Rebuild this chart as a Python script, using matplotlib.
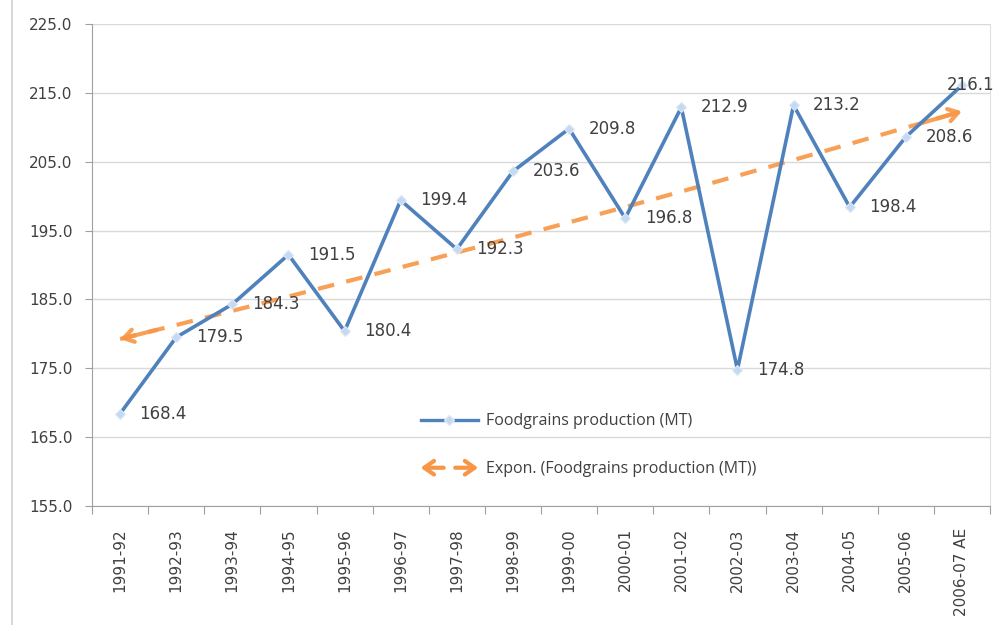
import numpy as np
import matplotlib
matplotlib.use("Agg")
import matplotlib.pyplot as plt
from matplotlib.legend_handler import HandlerBase
from matplotlib.patches import FancyArrowPatch
from matplotlib.lines import Line2D

# ---- data ----
years = ["1991-92", "1992-93", "1993-94", "1994-95", "1995-96", "1996-97",
         "1997-98", "1998-99", "1999-00", "2000-01", "2001-02", "2002-03",
         "2003-04", "2004-05", "2005-06", "2006-07 AE"]
production = [168.4, 179.5, 184.3, 191.5, 180.4, 199.4, 192.3, 203.6,
              209.8, 196.8, 212.9, 174.8, 213.2, 198.4, 208.6, 216.1]
y_ticks = [155.0, 165.0, 175.0, 185.0, 195.0, 205.0, 215.0, 225.0]
series_label = "Foodgrains production (MT)"
trend_label = "Expon. (Foodgrains production (MT))"

BLUE = "#4f81bd"
ORANGE = "#f79646"
TXT = "#404040"
NUMFONT = "DejaVu Sans"

plt.rcParams["font.family"] = NUMFONT

fig = plt.figure(figsize=(10.01, 6.25), dpi=100)
ax = fig.add_axes([92 / 1001, 1 - 506 / 625, (990 - 92) / 1001, (506 - 24) / 625])

x = np.arange(len(years))
ax.plot(x, production, color=BLUE, lw=2.6, marker="D", ms=5,
        mfc="#c6d9f1", mec="#dbe8f7", mew=0.8, zorder=3, label=series_label)

# exponential trendline (Excel style: ln(y) = ln(a) + b*x)
xx = x + 1
b, lna = np.polyfit(xx, np.log(production), 1)
trend = np.exp(lna + b * xx)
ax.plot(x, trend, color=ORANGE, lw=3, ls=(0, (4, 3)), zorder=2, alpha=0.9)
for i0, i1 in [(1, 0), (-2, -1)]:
    ax.annotate("", xy=(x[i1], trend[i1]),
                xytext=(x[i0] * 0.65 + x[i1] * 0.35, trend[i0] * 0.65 + trend[i1] * 0.35),
                arrowprops=dict(arrowstyle="->,head_length=0.7,head_width=0.45",
                                color=ORANGE, lw=3, alpha=0.9, shrinkA=0, shrinkB=0),
                zorder=2)

# data labels: right of points; the last one sits centred over its point
label_ha = ["left"] * (len(years) - 1) + ["center"]
label_dx = [14] * (len(years) - 1) + [6]
for xi, v, ha, dx in zip(x, production, label_ha, label_dx):
    ax.annotate(f"{v:.1f}", (xi, v), xytext=(dx, 0), textcoords="offset points",
                ha=ha, va="center", fontsize=12, color=TXT, zorder=4,
                family=NUMFONT)

ax.set_xlim(-0.5, len(years) - 0.5)
ax.set_ylim(y_ticks[0], y_ticks[-1])
ax.set_yticks(y_ticks)
ax.set_yticklabels([f"{t:.1f}" for t in y_ticks], family=NUMFONT)
ax.tick_params(axis="y", length=5, width=0.8, color="#a0a0a0", pad=9,
               labelsize=11, labelcolor=TXT)

ax.set_xticks(np.arange(-0.5, len(years), 1.0))
ax.set_xticklabels([])
ax.set_xticks(x, minor=True)
ax.set_xticklabels(years, minor=True, rotation=90, va="top", ha="center",
                   family=NUMFONT)
ax.tick_params(axis="x", which="major", length=6, width=0.8, color="#a0a0a0")
ax.tick_params(axis="x", which="minor", length=0, pad=16, labelsize=11,
               labelcolor=TXT)

ax.grid(axis="y", color="#d9d9d9", lw=1)
ax.set_axisbelow(True)
ax.spines["top"].set_visible(False)
ax.spines["right"].set_color("#e0e0e0")
ax.spines["left"].set_color("#a0a0a0")
ax.spines["bottom"].set_color("#a0a0a0")


class HandlerDoubleArrow(HandlerBase):
    def create_artists(self, legend, orig_handle, xdescent, ydescent,
                       width, height, fontsize, trans):
        y = height / 2 - ydescent
        x0 = -xdescent
        arts = []
        for a, bb in [((x0 + width * 0.4, y), (x0, y)),
                      ((x0 + width * 0.6, y), (x0 + width, y))]:
            p = FancyArrowPatch(a, bb, arrowstyle="->,head_length=0.5,head_width=0.35",
                                color=ORANGE, lw=3, mutation_scale=14,
                                transform=trans, shrinkA=0, shrinkB=0)
            arts.append(p)
        return arts


trend_handle = Line2D([], [], color=ORANGE)
blue_handle = Line2D([], [], color=BLUE, lw=2.4, marker="D", ms=5,
                     mfc="#c6d9f1", mec="#dbe8f7")
leg = ax.legend([blue_handle, trend_handle], [series_label, trend_label],
                handler_map={trend_handle: HandlerDoubleArrow()},
                loc="upper left", bbox_to_anchor=(0.35, 0.222), frameon=False,
                handlelength=3.6, handletextpad=0.5, labelspacing=2.0,
                prop={"family": "Open Sans", "size": 11.5})
for t in leg.get_texts():
    t.set_color(TXT)

fig.add_artist(Line2D([12 / 1001, 12 / 1001], [0, 1], color="#d0d0d0", lw=1.2,
                      transform=fig.transFigure))

fig.savefig("out.png", dpi=100)
